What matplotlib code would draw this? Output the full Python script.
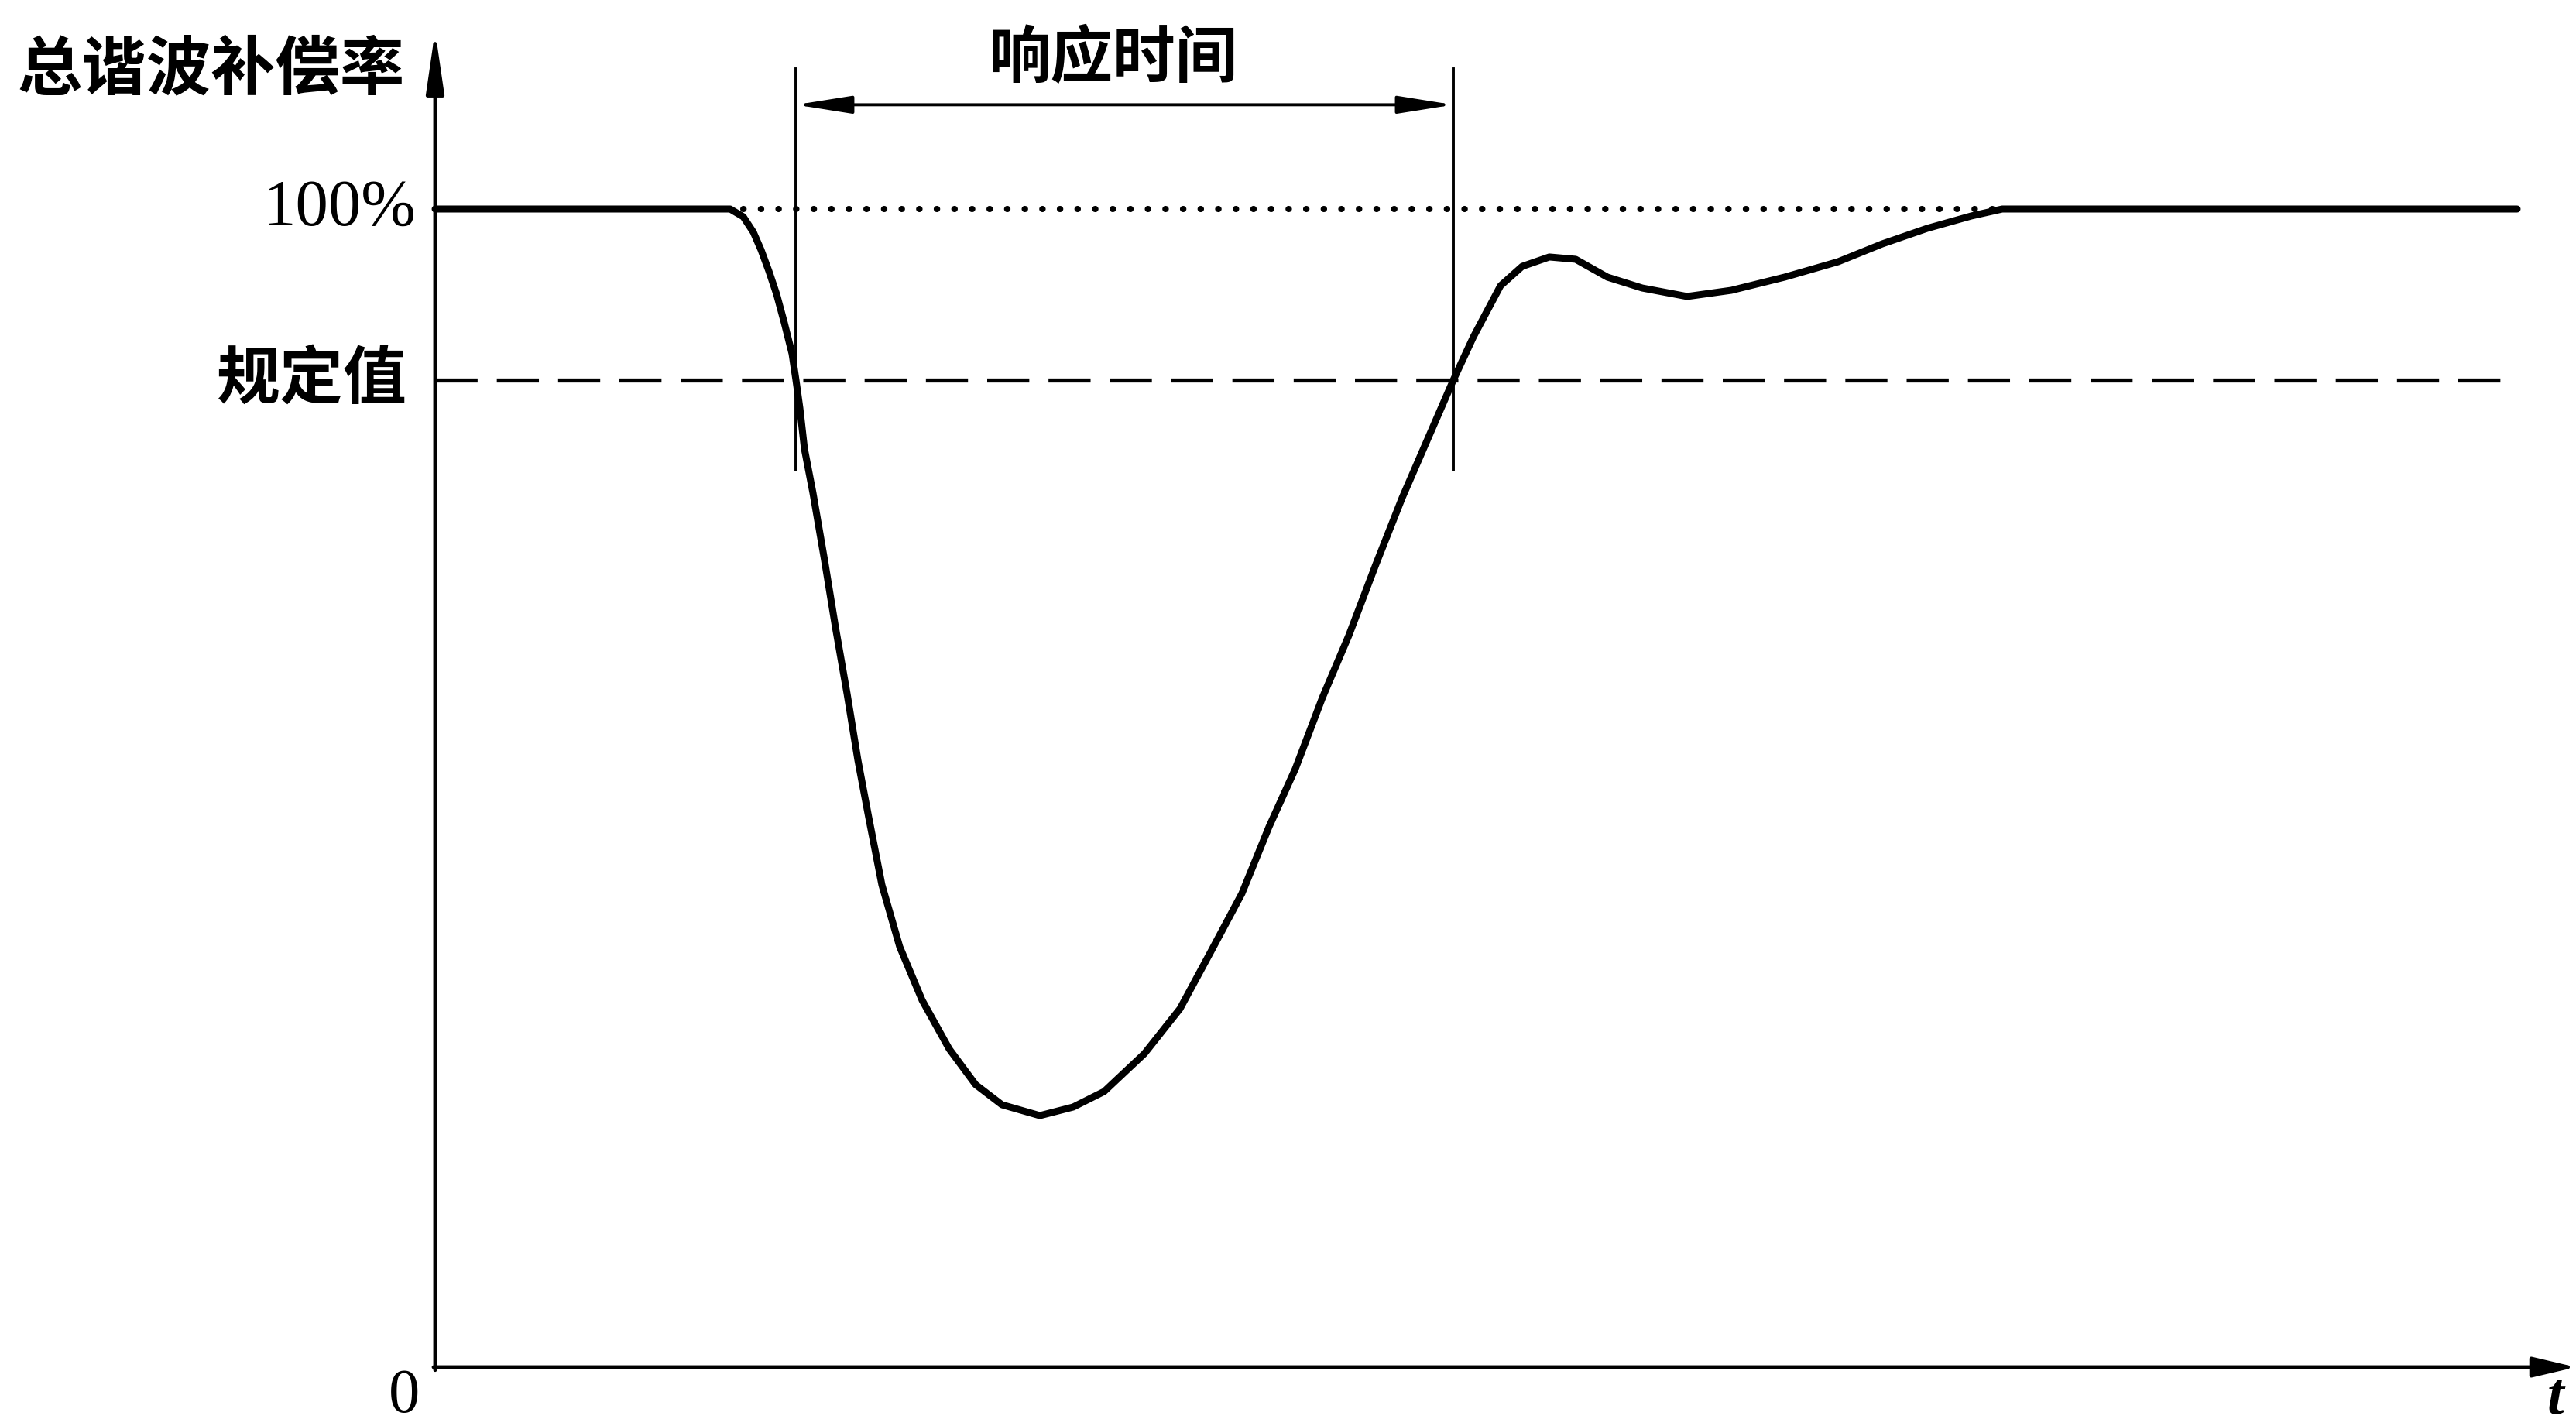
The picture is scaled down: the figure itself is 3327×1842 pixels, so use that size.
import matplotlib
matplotlib.use("Agg")
import matplotlib.pyplot as plt
from matplotlib.patches import ArrowStyle

# ---- data (time in arbitrary units, value in %) ----
t_curve = [0, 38.1, 39.8, 41.1, 42.1, 43.1, 44.1, 45.1, 46.1, 46.6, 47.1, 47.7,
           48.8, 50.3, 51.7, 53.2, 54.6, 56.0, 57.7, 60.0, 62.9, 66.4, 69.8,
           73.2, 78.1, 82.4, 86.4, 91.6, 96.2, 100.2, 104.2, 107.7, 111.1,
           114.6, 118.0, 121.5, 124.9, 127.2, 131.5, 134.1, 137.6, 140.4,
           143.9, 147.3, 151.4, 155.9, 161.7, 167.4, 174.3, 181.2, 186.9,
           192.7, 198.4, 202.4, 268.9]
y_curve = [100, 100, 99.33, 98.0, 96.46, 94.65, 92.65, 90.17, 87.5, 85.23, 82.82, 79.28,
           75.47, 69.65, 63.9, 58.16, 52.41, 47.46, 41.64, 36.3, 31.68, 27.47, 24.4,
           22.66, 21.72, 22.46, 23.8, 27.07, 30.95, 35.9, 40.91, 46.66, 51.67,
           57.82, 63.17, 69.32, 75.07, 78.61, 85.23, 88.97, 93.38, 95.05,
           95.86, 95.66, 94.12, 93.18, 92.45, 92.98, 94.12, 95.45, 96.99,
           98.33, 99.4, 100, 100]

full_value = 100.0
spec_value = 85.23
dotted_span = [39.8, 202.4]
dashed_span = [0, 267.9]
resp_start, resp_end = 46.6, 131.5
resp_marker_span = [77.5, 112.1]
resp_arrow_y = 109.0

y_label = "总谐波补偿率"
tick_full = "100%"
tick_spec = "规定值"
resp_label = "响应时间"
origin_label = "0"
x_label = "t"

# ---- figure ----
W, H = 3327, 1842
fig = plt.figure(figsize=(W / 100, H / 100), dpi=100)
x0, y0, ytop = 562, 1766, 40
ax = fig.add_axes([x0 / W, (H - y0) / H, (W - x0) / W, (y0 - ytop) / H])
XMAX = (W - x0) / 10.0
YMAX = (y0 - ytop) / 14.96
ax.set_xlim(0, XMAX)
ax.set_ylim(0, YMAX)
ax.axis("off")

cjk = ["Noto Sans CJK SC", "DejaVu Sans"]
serif = ["Liberation Serif", "DejaVu Serif"]

# axes with arrows
ax.annotate("", xy=(0, YMAX), xytext=(0, -0.25), annotation_clip=False,
            arrowprops=dict(arrowstyle=ArrowStyle("-|>", head_length=48, head_width=7),
                            mutation_scale=1, lw=3.5, color="black",
                            shrinkA=0, shrinkB=0))
ax.annotate("", xy=(XMAX, 0), xytext=(-0.2, 0), annotation_clip=False,
            arrowprops=dict(arrowstyle=ArrowStyle("-|>", head_length=34, head_width=8),
                            mutation_scale=1, lw=3.5, color="black",
                            shrinkA=0, shrinkB=0))

# reference lines
ax.plot(dotted_span, [full_value, full_value], color="black", lw=5.8,
        linestyle=(0, (0.05, 2.77)), dash_capstyle="round", clip_on=False)
ax.plot(dashed_span, [spec_value, spec_value], color="black", lw=3.8,
        linestyle=(0, (10.3, 4.7)), clip_on=False)

# response-time markers
for tx in (resp_start, resp_end):
    ax.plot([tx, tx], resp_marker_span, color="black", lw=2.8, clip_on=False)
ax.annotate("", xy=(resp_end, resp_arrow_y), xytext=(resp_start, resp_arrow_y),
            annotation_clip=False,
            arrowprops=dict(arrowstyle=ArrowStyle("<|-|>", head_length=44, head_width=7),
                            mutation_scale=1, lw=2.8, color="black",
                            shrinkA=0, shrinkB=0))

# main curve
ax.plot(t_curve, y_curve, color="black", lw=6.5, solid_capstyle="round",
        solid_joinstyle="round", clip_on=False, zorder=5)

# texts
ax.text(-3.9, 112.0, y_label, ha="right", va="center", fontsize=60,
        family=cjk, fontweight="bold", clip_on=False)
ax.text(-2.5, full_value, tick_full, ha="right", va="center", fontsize=61,
        family=serif, clip_on=False)
ax.text(-3.6, spec_value, tick_spec, ha="right", va="center", fontsize=59,
        family=cjk, fontweight="bold", clip_on=False)
ax.text(87.6, 112.9, resp_label, ha="center", va="center",
        fontsize=58, family=cjk, fontweight="bold", clip_on=False)
ax.text(-4.0, -2.6, origin_label, ha="center", va="center", fontsize=58,
        family=serif, clip_on=False)
ax.text(273.8, -2.8, x_label, ha="center", va="center", fontsize=56,
        family=serif, fontweight="bold", fontstyle="italic", clip_on=False)

fig.savefig("out.png", dpi=100, facecolor="white")
